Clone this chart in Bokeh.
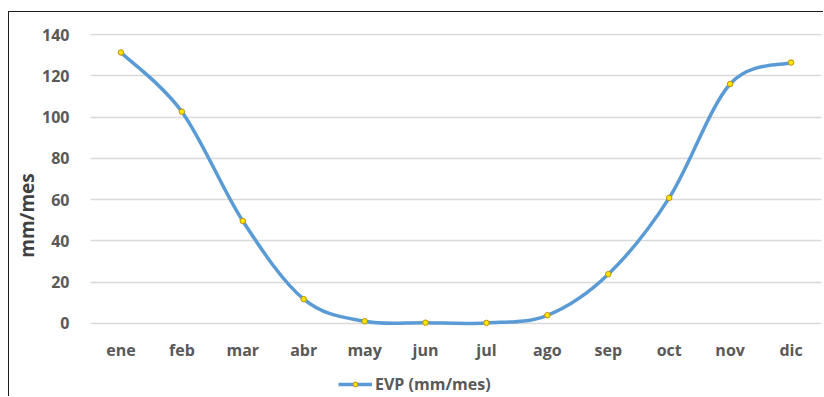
from bokeh.plotting import figure
from bokeh.models import FixedTicker, ColumnDataSource, Legend, LegendItem, LinearAxis
from bokeh.embed import file_html
from bokeh.resources import INLINE

months = ["ene", "feb", "mar", "abr", "may", "jun", "jul", "ago", "sep", "oct", "nov", "dic"]
evp = [131.3, 102.6, 49.6, 11.7, 1.0, 0.3, 0.2, 3.9, 23.8, 60.8, 116.0, 126.4]
y_ticks = [0, 20, 40, 60, 80, 100, 120, 140]
series_name = "EVP (mm/mes)"
y_title = "mm/mes"

xs = list(range(1, len(months) + 1))

# Smoothed line (Excel-style) as cubic Bezier segments built from the data
x0, y0, x1, y1, cx0, cy0, cx1, cy1 = [], [], [], [], [], [], [], []
n = len(xs)
for i in range(n - 1):
    im1 = max(i - 1, 0)
    ip2 = min(i + 2, n - 1)
    x0.append(xs[i]); y0.append(evp[i])
    x1.append(xs[i + 1]); y1.append(evp[i + 1])
    cx0.append(xs[i] + (xs[i + 1] - xs[im1]) / 6)
    cy0.append(evp[i] + (evp[i + 1] - evp[im1]) / 6)
    cx1.append(xs[i + 1] - (xs[ip2] - xs[i]) / 6)
    cy1.append(evp[i + 1] - (evp[ip2] - evp[i]) / 6)

bez = ColumnDataSource(dict(x0=x0, y0=y0, x1=x1, y1=y1, cx0=cx0, cy0=cy0, cx1=cx1, cy1=cy1))
pts = ColumnDataSource(dict(x=xs, y=evp))

p = figure(width=815, height=385, output_backend="svg", toolbar_location=None,
           x_range=(0.5, 12.5), y_range=(-35.97, 140.49),
           x_axis_location=None,
           min_border_left=81, min_border_right=3, min_border_top=21, min_border_bottom=0)
p.styles = {"margin-left": "8px", "margin-top": "11px",
            "border-left": "1px solid #1e1e1e", "border-top": "1px solid #1e1e1e"}
p.outline_line_color = None
p.background_fill_color = "white"
p.border_fill_color = "white"

FONT = "Open Sans"
TICK_COLOR = "#595959"

# category axis: drawn inside the frame, just under the zero line
xaxis = LinearAxis(ticker=FixedTicker(ticks=xs), fixed_location=-21)
xaxis.major_label_overrides = {i + 1: m for i, m in enumerate(months)}
p.add_layout(xaxis, "above")

p.yaxis.ticker = FixedTicker(ticks=y_ticks)
for ax in (xaxis, p.yaxis[0]):
    ax.axis_line_color = None
    ax.major_tick_line_color = None
    ax.minor_tick_line_color = None
    ax.major_label_text_font = FONT
    ax.major_label_text_font_style = "bold"
    ax.major_label_text_font_size = "16px"
    ax.major_label_text_color = TICK_COLOR
xaxis.major_label_standoff = 0
p.yaxis.major_label_standoff = 15
p.yaxis.axis_label = y_title
p.yaxis.axis_label_text_font = FONT
p.yaxis.axis_label_text_font_style = "bold"
p.yaxis.axis_label_text_font_size = "19px"
p.yaxis.axis_label_text_color = "#404040"
p.yaxis.axis_label_standoff = -1

for g in p.xgrid:
    g.grid_line_color = None
for g in p.ygrid:
    g.grid_line_color = "#d9d9d9"
    g.grid_line_width = 1.3

p.bezier(x0="x0", y0="y0", x1="x1", y1="y1", cx0="cx0", cy0="cy0", cx1="cx1", cy1="cy1",
         source=bez, line_color="#5B9BD5", line_width=3.5)
r_pts = p.scatter("x", "y", source=pts, size=5.5, fill_color="#FFE600",
                  line_color="#BF9000", line_width=1)
r_leg_line = p.line(x=[1], y=[float("nan")], line_color="#5B9BD5", line_width=3.5)

legend = Legend(items=[LegendItem(label=series_name, renderers=[r_leg_line, r_pts])],
                orientation="horizontal", location=(248, 2),
                label_text_font=FONT, label_text_font_style="bold",
                label_text_font_size="16px", label_text_color=TICK_COLOR,
                border_line_color=None, background_fill_alpha=0,
                glyph_width=34, glyph_height=12, label_standoff=3, padding=2, margin=0)
p.add_layout(legend, "center")

open("out.html", "w").write(file_html(p, INLINE))
